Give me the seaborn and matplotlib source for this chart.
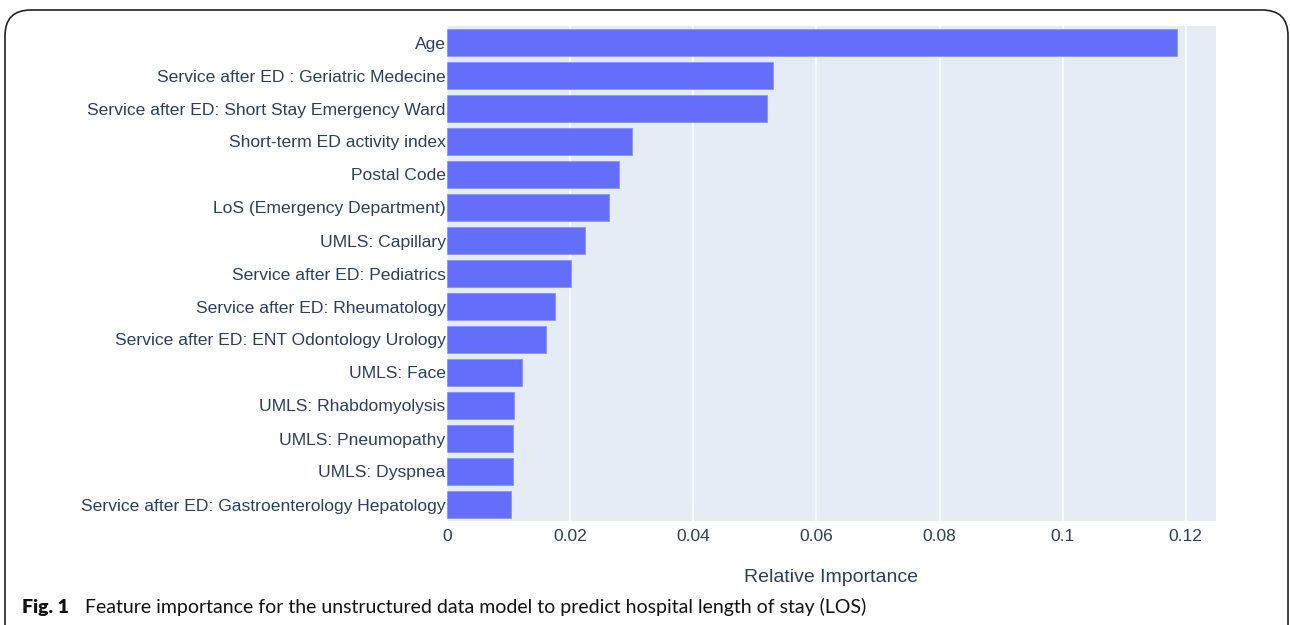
import matplotlib
matplotlib.use("Agg")
import matplotlib.pyplot as plt
import seaborn as sns
import pandas as pd
from matplotlib.patches import FancyBboxPatch

# ---------- Data ----------
features = [
    "Age",
    "Service after ED : Geriatric Medecine",
    "Service after ED: Short Stay Emergency Ward",
    "Short-term ED activity index",
    "Postal Code",
    "LoS (Emergency Department)",
    "UMLS: Capillary",
    "Service after ED: Pediatrics",
    "Service after ED: Rheumatology",
    "Service after ED: ENT Odontology Urology",
    "UMLS: Face",
    "UMLS: Rhabdomyolysis",
    "UMLS: Pneumopathy",
    "UMLS: Dyspnea",
    "Service after ED: Gastroenterology Hepatology",
]
importance = [0.1185, 0.0529, 0.0519, 0.0300, 0.0279, 0.0263, 0.0224, 0.0201,
              0.0175, 0.0161, 0.0122, 0.0109, 0.0107, 0.0107, 0.0104]
x_ticks = [0, 0.02, 0.04, 0.06, 0.08, 0.1, 0.12]
x_tick_labels = ["0", "0.02", "0.04", "0.06", "0.08", "0.1", "0.12"]

df = pd.DataFrame({"Feature": features, "Importance": importance})

# ---------- Style ----------
sns.set_style("white")
plt.rcParams["font.family"] = ["Liberation Sans", "DejaVu Sans"]
text_col = "#2a3f5f"

fig = plt.figure(figsize=(12.9, 6.25), dpi=100)
ax = fig.add_axes([0.3465, 0.1664, 0.5961, 0.792])
ax.set_facecolor("#E5ECF6")

sns.barplot(data=df, x="Importance", y="Feature", orient="h", color="#636EFA",
            saturation=1, width=0.8, edgecolor="#8a93fb", linewidth=0.6, ax=ax, zorder=3)

ax.set_xlim(0, 0.1249)
ax.set_xticks(x_ticks)
ax.set_xticklabels(x_tick_labels, fontsize=12.5, color=text_col)
ax.tick_params(axis="y", labelsize=12.6, labelcolor=text_col, length=0, pad=1)
ax.tick_params(axis="x", length=0, pad=6)
ax.grid(axis="x", color="white", linewidth=1.2, zorder=0)
ax.set_axisbelow(True)
for s in ax.spines.values():
    s.set_visible(False)
ax.set_ylabel("")
ax.set_xlabel("Relative Importance", fontsize=14, color=text_col, labelpad=18)

# ---------- Frame and caption ----------
frame = FancyBboxPatch((5 / 1290, -0.05), 1283 / 1290, 1.034, transform=fig.transFigure,
                       boxstyle="round,pad=0,rounding_size=0.02", mutation_aspect=2.06,
                       facecolor="none", edgecolor="#222222", linewidth=1.2, clip_on=False)
fig.patches.append(frame)

fig.text(22 / 1290, 1 - 607 / 625, "Fig. 1", fontsize=14, fontweight="heavy",
         family=["Lato", "DejaVu Sans"], va="center", ha="left", color="#111111")
fig.text(85 / 1290, 1 - 607 / 625,
         "Feature importance for the unstructured data model to predict hospital length of stay (LOS)",
         fontsize=14, family=["Lato", "DejaVu Sans"], va="center", ha="left", color="#111111")

fig.savefig("out.png", dpi=100)
